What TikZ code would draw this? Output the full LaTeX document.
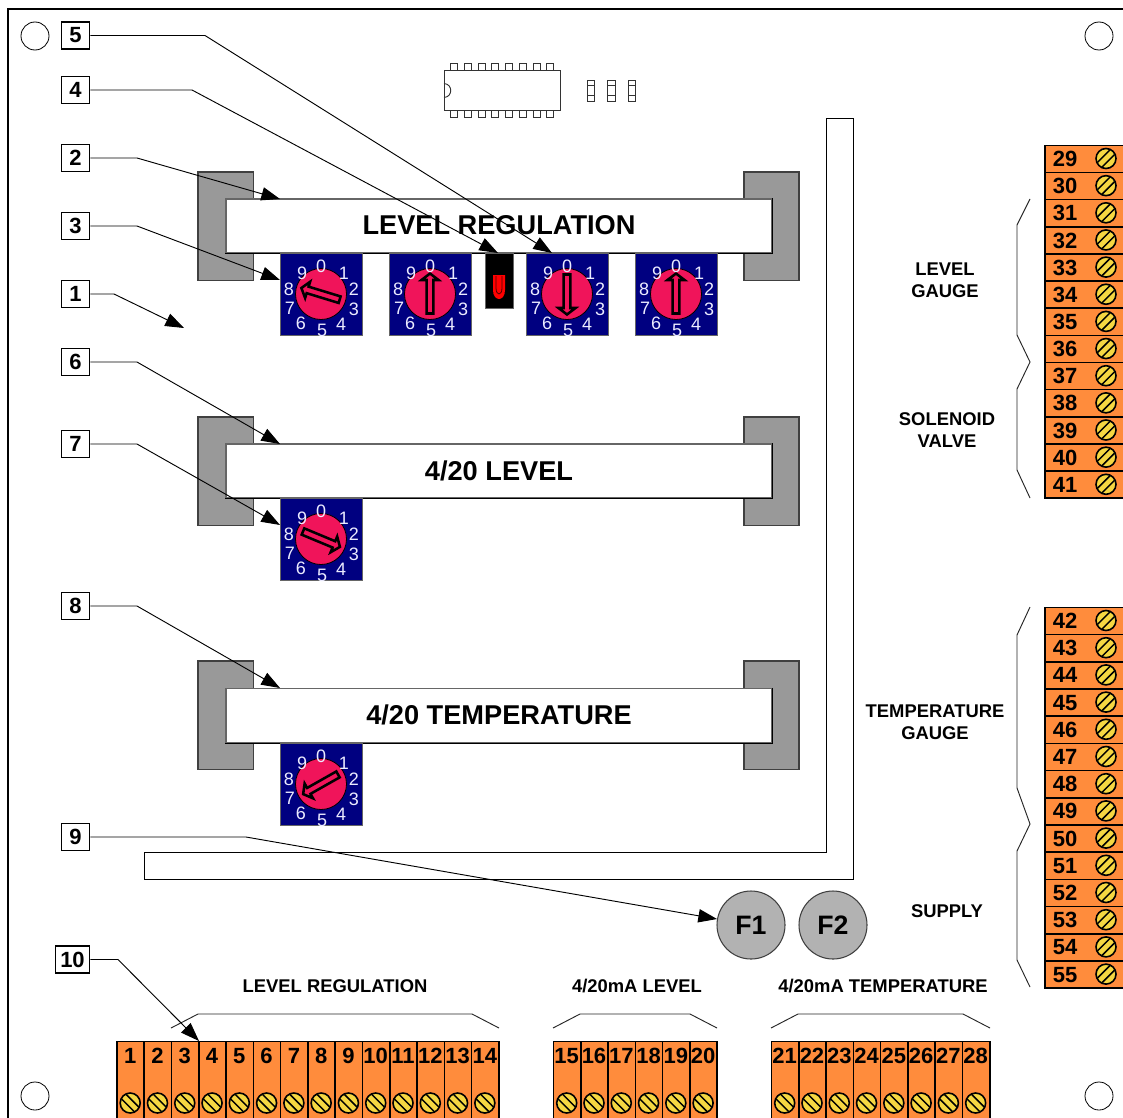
\documentclass[tikz,border=0pt]{standalone}
\usepackage{fontspec}
\setmainfont{Liberation Sans}
\usetikzlibrary{arrows.meta}
\definecolor{swnavy}{HTML}{000080}
\definecolor{swpink}{HTML}{F0145A}
\definecolor{termorange}{HTML}{FF8C3C}
\definecolor{screwyellow}{HTML}{F5D742}
\definecolor{brackgray}{HTML}{999999}
\definecolor{fusegray}{HTML}{B2B2B2}
\definecolor{edgegray}{HTML}{666666}
\tikzset{
  numbox/.style={draw=black,line width=1.4pt,fill=white,inner sep=0pt,minimum width=21pt,minimum height=20.25pt,font=\fontsize{16.5}{18}\selectfont\bfseries},
  leadline/.style={draw=black,line width=0.7pt,-{Triangle[length=14pt,width=10pt]}},
  bracketbox/.style={draw=black!75,line width=.9pt,fill=brackgray},
  barbox/.style={draw=edgegray,line width=.9pt,fill=white,inner sep=0pt,minimum width=409.5pt,minimum height=40.5pt,font=\fontsize{20.4}{22}\selectfont\bfseries},
  captext/.style={font=\fontsize{13.8}{16.5}\selectfont\bfseries,align=center,inner sep=0pt},
  swdigit/.style={text=white!92!blue,font=\fontsize{13.5}{14}\selectfont,inner sep=0pt},
  tcell/.style={draw=black,line width=1.2pt,fill=termorange,inner sep=0pt},
  tnum/.style={font=\fontsize{16.5}{18}\selectfont\bfseries,inner sep=0pt},
  braceline/.style={draw=black!85,line width=0.7pt},
  pinbox/.style={draw=black!80,line width=0.6pt,fill=white},
  fusenode/.style={circle,draw=black!75,line width=0.8pt,fill=fusegray,inner sep=0pt,minimum size=51pt,font=\fontsize{20}{22}\selectfont\bfseries},
  holenode/.style={circle,draw=black,line width=0.6pt,fill=white,inner sep=0pt,minimum size=21pt}
}
% #1 x, #2 y (top left of the square), #3 rotation, #4 name
\newcommand{\rotswitch}[4]{%
  \node[draw=edgegray,line width=.6pt,fill=swnavy,inner sep=0pt,minimum size=61.5pt,anchor=north west] (#4) at (#1,#2) {};
  \begin{scope}[shift={(#1+41,#2+41)}]
    \fill[swpink,draw=black,line width=.6pt] (0,0) circle[radius=25.5];
    \begin{scope}[rotate=#3]
      \draw[black,line width=1.9pt,line join=miter,fill=swpink]
        (-3.4,19.5) -- (3.4,19.5) -- (3.4,-14) -- (8.5,-14) -- (0,-20.5) -- (-8.5,-14) -- (-3.4,-14) -- cycle;
    \end{scope}
    \foreach \d/\dx/\dy in {0/0/-28,1/23/-21,2/33/-5,3/33/15,4/20/30,5/1/36,6/-20/29,7/-31/14,8/-32/-5,9/-19/-21}
      \node[swdigit] at (\dx,\dy) {\d};
  \end{scope}}
% screw: #1 x, #2 y, #3 +1 for / and -1 for \
\newcommand{\screw}[3]{%
  \begin{scope}[shift={(#1,#2)}]
    \draw[black,line width=1.2pt,fill=screwyellow] (0,0) circle[radius=10];
    \draw[black,line width=1.1pt] (-6.2+2.3,6.2*#3+2.3*#3) -- (6.2+2.3,-6.2*#3+2.3*#3);
    \draw[black,line width=1.1pt] (-6.2-2.3,6.2*#3-2.3*#3) -- (6.2-2.3,-6.2*#3-2.3*#3);
  \end{scope}}
\newcommand{\barshade}[1]{\draw[black,line width=.9pt] (#1.north east) -- (#1.south east) -- (#1.south west);}
\begin{document}
\begin{tikzpicture}[x=0.75pt,y=-0.75pt]
\useasboundingbox (0,0) rectangle (1123,1117);
\clip (0,0) rectangle (1123,1117);
\fill[white] (0,0) rectangle (1123,1117);
% board
\draw[black,line width=1.5pt] (7.5,1130) -- (7.5,9) -- (1135,9);
\node[holenode] (h1) at (35,36) {};
\node[holenode] (h2) at (1099,36) {};
\node[holenode] (h3) at (35,1096) {};
\node[holenode] (h4) at (1099,1096) {};
% chip
\foreach \i in {0,...,7}{
  \draw[pinbox] (450.7+13.7*\i,63.5) rectangle ++(7,7);
  \draw[pinbox] (450.7+13.7*\i,110.5) rectangle ++(7,7);
}
\draw[black!80,line width=.7pt,fill=white] (444,70) rectangle (560,110.5);
\draw[black!80,line width=.7pt] (444,83.5) .. controls (453,84) and (453,97) .. (444,97.5);
\foreach \x in {587,607.5,628}{
  \draw[pinbox] (\x,80) rectangle ++(7.5,21);
  \draw[black!80,line width=.6pt] (\x,85) -- ++(7.5,0) (\x,95.5) -- ++(7.5,0);
}
% L-shaped duct
\draw[black,line width=.65pt,fill=white] (826,118) -- (853,118) -- (853,879) -- (144,879) -- (144,852) -- (826,852) -- cycle;
% brackets and bars
\foreach \yb in {172,417,661}{
  \draw[bracketbox] (198,\yb) rectangle (253.5,\yb+108.5);
  \draw[bracketbox] (744,\yb) rectangle (799,\yb+108.5);
}
\node[barbox] (bar1) at (499,226) {\raisebox{1.2pt}{LEVEL REGULATION}};
\node[barbox] (bar2) at (499,471) {\raisebox{1.2pt}{4/20 LEVEL}};
\node[barbox] (bar3) at (499,715.5) {\raisebox{.8pt}{4/20 TEMPERATURE}};
\barshade{bar1}\barshade{bar2}\barshade{bar3}
% rotary switches
\rotswitch{280}{253}{73}{sw1}
\rotswitch{389}{253}{0}{sw2}
\rotswitch{526}{253}{180}{sw3}
\rotswitch{635}{253}{0}{sw4}
\rotswitch{280}{498}{-112.6}{sw5}
\rotswitch{280}{743}{119.5}{sw6}
% LED
\node[fill=black,draw=edgegray,line width=.4pt,inner sep=0pt,minimum width=21pt,minimum height=41pt,anchor=north west] (led) at (485,253) {};
\fill[red] (493,275) -- (505,275) -- (505,290) .. controls (505,302) and (493,302) .. (493,290) -- cycle;
\draw[black!70!red,line width=.6pt] (496,276) -- (496,288) .. controls (496,296) and (502,296) .. (502,288) -- (502,276);
% fuses
\node[fusenode] (f1) at (751,925) {F1};
\node[fusenode] (f2) at (833,925) {F2};
% right terminal strips
\foreach \n [count=\i from 0] in {29,...,41}{
  \node[tcell,anchor=north west,minimum width=66pt,minimum height=20.36pt] (t\n) at (1044.2,144.5+27.15*\i) {};
  \node[tnum] at (1065,159+27.15*\i) {\n};
  \screw{1106}{158.5+27.15*\i}{1}
}
\foreach \n [count=\i from 0] in {42,...,55}{
  \node[tcell,anchor=north west,minimum width=66pt,minimum height=20.4pt] (t\n) at (1044.2,606.5+27.2*\i) {};
  \node[tnum] at (1065,621+27.2*\i) {\n};
  \screw{1106}{620.5+27.2*\i}{1}
}
% bottom terminal strips
\foreach \n [count=\i from 0] in {1,...,14}{
  \node[tcell,anchor=north west,minimum width=20.46pt,minimum height=75pt] (t\n) at (116.2+27.28*\i,1040.5) {};
  \node[tnum] at (130.2+27.28*\i,1056) {\n};
  \screw{130.2+27.28*\i}{1103}{-1}
}
\foreach \n [count=\i from 0] in {15,...,20}{
  \node[tcell,anchor=north west,minimum width=20.46pt,minimum height=75pt] (t\n) at (552.7+27.28*\i,1040.5) {};
  \node[tnum] at (566.7+27.28*\i,1056) {\n};
  \screw{566.7+27.28*\i}{1103}{-1}
}
\foreach \n [count=\i from 0] in {21,...,28}{
  \node[tcell,anchor=north west,minimum width=20.46pt,minimum height=75pt] (t\n) at (770.7+27.28*\i,1040.5) {};
  \node[tnum] at (784.7+27.28*\i,1056) {\n};
  \screw{784.7+27.28*\i}{1103}{-1}
}
% group braces
\draw[braceline] (1030,199) -- (1017,225) -- (1017,335) -- (1030,362) -- (1017,389) -- (1017,470) -- (1030,498);
\draw[braceline] (1030,607) -- (1017,635) -- (1017,788) -- (1030,824) -- (1017,851) -- (1017,960) -- (1030,987);
\draw[braceline] (171,1028) -- (198,1014) -- (472,1014) -- (499,1028);
\draw[braceline] (553,1028) -- (580,1014) -- (690,1014) -- (717,1028);
\draw[braceline] (771,1028) -- (798,1014) -- (963,1014) -- (990,1028);
% captions
\node[captext] (c1) at (945,280) {LEVEL\\GAUGE};
\node[captext] (c2) at (947,430) {SOLENOID\\VALVE};
\node[captext] (c3) at (935,722) {TEMPERATURE\\GAUGE};
\node[captext] (c4) at (947,911.5) {SUPPLY};
\node[captext] (c5) at (335,986.5) {LEVEL REGULATION};
\node[captext] (c6) at (637,986.5) {4/20mA LEVEL};
\node[captext] (c7) at (883,986.5) {4/20mA TEMPERATURE};
% numbered callouts
\node[numbox] (n5) at (75.5,35.5) {5};
\node[numbox] (n4) at (75.5,90) {4};
\node[numbox] (n2) at (75.5,158) {2};
\node[numbox] (n3) at (75.5,226) {3};
\node[numbox] (n1) at (75.5,294) {1};
\node[numbox] (n6) at (75.5,362) {6};
\node[numbox] (n7) at (75.5,444) {7};
\node[numbox] (n8) at (75.5,606) {8};
\node[numbox] (n9) at (75.5,837) {9};
\node[numbox,minimum width=25.5pt] (n10) at (72.5,959.5) {10};
\coordinate (a5) at (552,253);
\coordinate (a4) at (498,253);
\coordinate (a2) at (280,199);
\coordinate (a3) at (280,280);
\coordinate (a1) at (184,328);
\coordinate (a6) at (280,444);
\coordinate (a7) at (280,525);
\coordinate (a8) at (280,688);
\coordinate (a9) at (717,919);
\coordinate (a10) at (199,1041);
\draw[leadline] (n5.east) -- (205,35.5) -- (a5);
\draw[leadline] (n4.east) -- (192,90) -- (a4);
\draw[leadline] (n2.east) -- (137,158) -- (a2);
\draw[leadline] (n3.east) -- (137,226) -- (a3);
\draw[leadline] (n1.east) -- (114,294) -- (a1);
\draw[leadline] (n6.east) -- (137,362) -- (a6);
\draw[leadline] (n7.east) -- (137,444) -- (a7);
\draw[leadline] (n8.east) -- (137,606) -- (a8);
\draw[leadline] (n9.east) -- (246,837) -- (a9);
\draw[leadline] (n10.east) -- (118,959.5) -- (a10);
\end{tikzpicture}
\end{document}
